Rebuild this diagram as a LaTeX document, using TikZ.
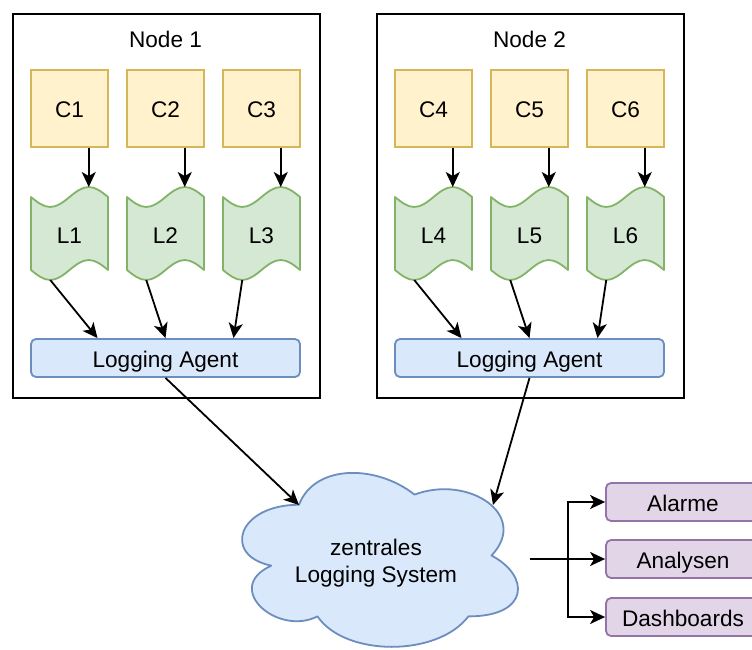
\documentclass[tikz,border=0pt]{standalone}
\usepackage{fontspec}
\setmainfont{Liberation Sans}
\usetikzlibrary{arrows.meta}
\definecolor{cfill}{HTML}{FFF2CC}
\definecolor{cline}{HTML}{D6B656}
\definecolor{lfill}{HTML}{D5E8D4}
\definecolor{lline}{HTML}{82B366}
\definecolor{afill}{HTML}{DAE8FC}
\definecolor{aline}{HTML}{6C8EBF}
\definecolor{ofill}{HTML}{E1D5E7}
\definecolor{oline}{HTML}{9673A6}
% wavy log "tape": left edge x, 77 wide, from y=187 to y=280
\newcommand\logtape[1]{%
  \filldraw[tapefill] (#1,197) sin (#1+19.25,207) cos (#1+38.5,197)
    sin (#1+57.75,187) cos (#1+77,197) -- (#1+77,270)
    sin (#1+57.75,260) cos (#1+38.5,270) sin (#1+19.25,280) cos (#1,270) -- cycle;}
\begin{document}
\begin{tikzpicture}[x=1pt,y=-1pt,
  font=\fontsize{22.6}{27}\selectfont,
  oneline/.style={text height=18pt, text depth=0pt},
  hostbox/.style={draw=black, line width=1.8pt, minimum width=307pt, minimum height=384pt, anchor=north west, inner sep=0pt},
  hosttitle/.style={oneline, inner sep=0pt},
  ctr/.style={oneline, draw=cline, fill=cfill, line width=1.8pt, minimum width=77pt, minimum height=77pt, inner sep=0pt},
  tapefill/.style={draw=lline, fill=lfill, line width=1.8pt, line join=round},
  tapelabel/.style={oneline, minimum width=77pt, minimum height=93pt, inner sep=0pt},
  agent/.style={oneline, draw=aline, fill=afill, line width=1.8pt, rounded corners=5pt, minimum width=269pt, minimum height=38pt, inner sep=0pt},
  cloudshape/.style={draw=aline, fill=afill, line width=1.8pt, line join=round},
  cloudtext/.style={minimum width=308pt, align=center, inner sep=0pt, yshift=-4pt},
  outbox/.style={oneline, draw=oline, fill=ofill, line width=1.8pt, rounded corners=5pt, minimum width=154pt, minimum height=38pt, inner sep=0pt},
  arr/.style={-{Stealth[length=15pt,width=14pt,inset=4pt]}, line width=1.8pt},
]
\useasboundingbox (0,0) rectangle (752,650);

% host machines
\node[hostbox] (host1) at (12,13) {};
\node[hostbox] (host2) at (376,13) {};
\node[hosttitle] (title1) at (165.5,38.5) {Node 1};
\node[hosttitle] (title2) at (529.5,38.5) {Node 2};

% containers
\node[ctr] (C1) at (69.5,108.5) {C1};
\node[ctr] (C2) at (165.5,108.5) {C2};
\node[ctr] (C3) at (261.5,108.5) {C3};
\node[ctr] (C4) at (433.5,108.5) {C4};
\node[ctr] (C5) at (529.5,108.5) {C5};
\node[ctr] (C6) at (625.5,108.5) {C6};

% log files
\foreach \i/\xl in {1/31,2/127,3/223,4/395,5/491,6/587}{
  \logtape{\xl}
  \node[tapelabel] (L\i) at (\xl+38.5,234) {L\i};
  \coordinate (Ltop\i) at (\xl+57.75,187);
  \coordinate (Lbot\i) at (\xl+19.25,280);
}

% logging agents
\node[agent] (A1) at (165.5,358) {Logging Agent};
\node[agent] (A2) at (529.5,358) {Logging Agent};

% central logging system
\begin{scope}[shift={(222,454)}, x=308pt, y=-203pt]
  \filldraw[cloudshape] (0.25,0.25) .. controls (0.05,0.25) and (0,0.5) .. (0.16,0.55)
    .. controls (0,0.66) and (0.18,0.9) .. (0.31,0.8)
    .. controls (0.4,1) and (0.7,1) .. (0.8,0.8)
    .. controls (1,0.8) and (1,0.6) .. (0.875,0.5)
    .. controls (1,0.3) and (0.8,0.1) .. (0.625,0.2)
    .. controls (0.5,0.05) and (0.3,0.05) .. (0.25,0.25) -- cycle;
\end{scope}
\node[cloudtext] (cloud) at (376,559) {zentrales\\Logging System};
\coordinate (cloudinA) at (299,505);
\coordinate (cloudinB) at (493,505);

% consumers
\node[outbox] (O1) at (683,502) {Alarme};
\node[outbox] (O2) at (683,559) {Analysen};
\node[outbox] (O3) at (683,617) {Dashboards};

% connectors
\foreach \i in {1,...,6}{
  \draw[arr] (C\i.south -| Ltop\i) -- (Ltop\i);
}
\draw[arr] (Lbot1) -- ([xshift=-68pt]A1.north);
\draw[arr] (Lbot2) -- (A1.north);
\draw[arr] (Lbot3) -- ([xshift=68pt]A1.north);
\draw[arr] (Lbot4) -- ([xshift=-68pt]A2.north);
\draw[arr] (Lbot5) -- (A2.north);
\draw[arr] (Lbot6) -- ([xshift=68pt]A2.north);
\draw[arr] (A1.south) -- (cloudinA);
\draw[arr] (A2.south) -- (cloudinB);
\coordinate (fork) at ([xshift=38pt]cloud.east |- O2.west);
\foreach \o in {O1,O2,O3}{
  \draw[arr] (cloud.east |- O2.west) -- (fork) |- (\o.west);
}
\end{tikzpicture}
\end{document}
